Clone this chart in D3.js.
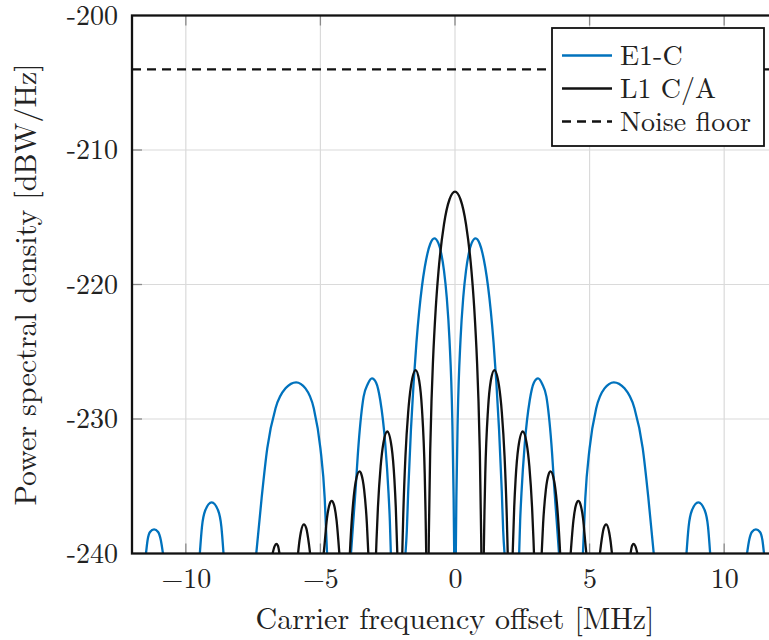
<!DOCTYPE html>
<html>
<head>
<meta charset="utf-8">
<script src="https://cdn.jsdelivr.net/npm/d3@7"></script>
<style>
  body { margin: 0; background: #fff; }
</style>
</head>
<body>
<svg id="chart"></svg>
<script>
const width = 769;
const height = 640;

// axis layout (plot box runs off the right edge like the original crop)
const plotLeft = 132, plotRight = 778, plotTop = 15.5, plotBottom = 553.5;
const fontFamily = '"Latin Modern Roman", "Liberation Serif", serif';
const fontSize = '28px';
const labelSize = '30px';

const xTicks = [-10, -5, 0, 5, 10];
const yTicks = [-200, -210, -220, -230, -240];
const noiseFloor = -204;

const seriesNames = ['E1-C', 'L1 C/A', 'Noise floor'];

// E1-C lobes, [MHz, dBW/Hz]
const e1cLobes = [
  [[-11.48,-240],[-11.42,-239.0],[-11.33,-238.4],[-11.18,-238.2],[-11.03,-238.4],[-10.93,-239.0],[-10.85,-240]],
  [[-9.48,-240],[-9.4,-238.0],[-9.28,-236.8],[-9.04,-236.2],[-8.8,-236.8],[-8.68,-238.0],[-8.6,-240]],
  [[-7.383,-240],[-7.185,-235.9],[-6.975,-232.18],[-6.667,-229.2],[-6.296,-227.72],[-5.901,-227.27],[-5.556,-227.72],[-5.247,-229.2],[-5.0,-232.18],[-4.84,-235.9],[-4.753,-240]],
  [[-3.864,-240],[-3.8,-238.2],[-3.704,-235.53],[-3.58,-231.81],[-3.395,-228.34],[-3.24,-227.4],[-3.086,-226.98],[-2.93,-227.3],[-2.778,-228.59],[-2.593,-231.81],[-2.469,-235.53],[-2.42,-237.6],[-2.383,-240]],
  [[-1.84,-240],[-1.79,-238.3],[-1.739,-235.4],[-1.637,-230.8],[-1.535,-227.23],[-1.432,-224.3],[-1.33,-221.98],[-1.228,-220.15],[-1.125,-218.74],[-1.023,-217.69],[-0.921,-216.99],[-0.767,-216.57],[-0.614,-216.94],[-0.512,-217.69],[-0.409,-218.97],[-0.307,-220.95],[-0.205,-224.1],[-0.102,-229.9],[-0.051,-235.9],[-0.03,-240]],
  [[0.03,-240],[0.051,-235.9],[0.102,-229.9],[0.205,-224.1],[0.307,-220.95],[0.409,-218.97],[0.512,-217.69],[0.614,-216.94],[0.767,-216.57],[0.921,-216.99],[1.023,-217.69],[1.125,-218.74],[1.228,-220.15],[1.33,-221.98],[1.432,-224.3],[1.535,-227.23],[1.637,-230.8],[1.739,-235.4],[1.79,-238.3],[1.84,-240]],
  [[2.383,-240],[2.42,-237.6],[2.469,-235.53],[2.593,-231.81],[2.778,-228.59],[2.93,-227.3],[3.086,-226.98],[3.24,-227.4],[3.395,-228.34],[3.58,-231.81],[3.704,-235.53],[3.8,-238.2],[3.864,-240]],
  [[4.753,-240],[4.84,-235.9],[5.0,-232.18],[5.247,-229.2],[5.556,-227.72],[5.901,-227.27],[6.296,-227.72],[6.667,-229.2],[6.975,-232.18],[7.185,-235.9],[7.383,-240]],
  [[8.6,-240],[8.68,-238.0],[8.8,-236.8],[9.04,-236.2],[9.28,-236.8],[9.4,-238.0],[9.48,-240]],
  [[10.85,-240],[10.93,-239.0],[11.03,-238.4],[11.18,-238.2],[11.33,-238.4],[11.42,-239.0],[11.48,-240]]
];

// L1 C/A lobes
const caLobes = [
  [[-6.777,-240],[-6.7,-239.45],[-6.639,-239.29],[-6.578,-239.42],[-6.522,-240]],
  [[-5.831,-240],[-5.78,-239.09],[-5.729,-238.44],[-5.616,-237.84],[-5.524,-238.13],[-5.422,-239.37],[-5.383,-240]],
  [[-4.88,-240],[-4.859,-239.59],[-4.757,-237.39],[-4.655,-236.31],[-4.583,-236.09],[-4.501,-236.35],[-4.399,-237.55],[-4.297,-240]],
  [[-3.906,-240],[-3.887,-239.25],[-3.785,-236.25],[-3.683,-234.6],[-3.55,-233.89],[-3.478,-234.11],[-3.376,-235.25],[-3.274,-237.76],[-3.22,-240]],
  [[-2.934,-240],[-2.916,-239.0],[-2.864,-236.6],[-2.762,-233.51],[-2.66,-231.78],[-2.517,-230.93],[-2.353,-232.12],[-2.251,-234.51],[-2.2,-236.55],[-2.143,-240]],
  [[-1.959,-240],[-1.944,-238.82],[-1.923,-237.2],[-1.841,-232.77],[-1.739,-229.49],[-1.637,-227.56],[-1.463,-226.36],[-1.33,-227.16],[-1.228,-229.24],[-1.125,-234.07],[-1.095,-236.86],[-1.069,-240]],
  [[-0.979,-240],[-0.972,-238.7],[-0.921,-232.33],[-0.87,-228.49],[-0.818,-225.72],[-0.716,-221.79],[-0.614,-219.04],[-0.409,-215.52],[-0.205,-213.68],[0,-213.1],[0.205,-213.68],[0.409,-215.52],[0.614,-219.04],[0.716,-221.79],[0.818,-225.72],[0.87,-228.49],[0.921,-232.33],[0.972,-238.7],[0.979,-240]],
  [[1.069,-240],[1.095,-236.86],[1.125,-234.07],[1.228,-229.24],[1.33,-227.16],[1.463,-226.36],[1.637,-227.56],[1.739,-229.49],[1.841,-232.77],[1.923,-237.2],[1.944,-238.82],[1.959,-240]],
  [[2.143,-240],[2.2,-236.55],[2.251,-234.51],[2.353,-232.12],[2.517,-230.93],[2.66,-231.78],[2.762,-233.51],[2.864,-236.6],[2.916,-239.0],[2.934,-240]],
  [[3.22,-240],[3.274,-237.76],[3.376,-235.25],[3.478,-234.11],[3.55,-233.89],[3.683,-234.6],[3.785,-236.25],[3.887,-239.25],[3.906,-240]],
  [[4.297,-240],[4.399,-237.55],[4.501,-236.35],[4.583,-236.09],[4.655,-236.31],[4.757,-237.39],[4.859,-239.59],[4.88,-240]],
  [[5.383,-240],[5.422,-239.37],[5.524,-238.13],[5.616,-237.84],[5.729,-238.44],[5.78,-239.09],[5.831,-240]],
  [[6.522,-240],[6.578,-239.42],[6.639,-239.29],[6.7,-239.45],[6.777,-240]]
];

const blue = '#0072bd';
const black = '#111';

const svg = d3.select('#chart')
  .attr('width', width)
  .attr('height', height);

svg.append('rect').attr('width', width).attr('height', height).attr('fill', '#fff');

const x = d3.scaleLinear().domain([-12, 12]).range([plotLeft, plotRight]);
const y = d3.scaleLinear().domain([-240, -200]).range([plotBottom, plotTop]);

svg.append('clipPath').attr('id', 'plot-clip')
  .append('rect')
  .attr('x', plotLeft).attr('y', plotTop)
  .attr('width', plotRight - plotLeft).attr('height', plotBottom - plotTop);

// grid
const grid = svg.append('g').attr('stroke', '#dadada').attr('stroke-width', 1.2);
grid.selectAll('.gx').data(xTicks).enter().append('line')
  .attr('x1', d => x(d)).attr('x2', d => x(d))
  .attr('y1', plotTop).attr('y2', plotBottom);
grid.selectAll('.gy').data(yTicks.slice(1, -1)).enter().append('line')
  .attr('x1', plotLeft).attr('x2', plotRight)
  .attr('y1', d => y(d)).attr('y2', d => y(d));

// tick marks inside the box
const ticks = svg.append('g').attr('stroke', '#8a8a8a').attr('stroke-width', 1.3);
ticks.selectAll('.tb').data(xTicks).enter().append('line')
  .attr('x1', d => x(d)).attr('x2', d => x(d))
  .attr('y1', plotBottom).attr('y2', plotBottom - 10);
ticks.selectAll('.tt').data(xTicks).enter().append('line')
  .attr('x1', d => x(d)).attr('x2', d => x(d))
  .attr('y1', plotTop).attr('y2', plotTop + 10);
ticks.selectAll('.tl').data(yTicks.slice(1, -1)).enter().append('line')
  .attr('x1', plotLeft).attr('x2', plotLeft + 10)
  .attr('y1', d => y(d)).attr('y2', d => y(d));

const line = d3.line()
  .x(d => x(d[0]))
  .y(d => y(d[1]))
  .curve(d3.curveMonotoneX);

const plot = svg.append('g').attr('clip-path', 'url(#plot-clip)');

plot.append('g').selectAll('path')
  .data(e1cLobes)
  .enter()
  .append('path')
  .attr('fill', 'none')
  .attr('stroke', blue)
  .attr('stroke-width', 2.3)
  .attr('d', line);

plot.append('g').selectAll('path')
  .data(caLobes)
  .enter()
  .append('path')
  .attr('fill', 'none')
  .attr('stroke', black)
  .attr('stroke-width', 2.3)
  .attr('d', line);

plot.append('line')
  .attr('x1', plotLeft).attr('x2', plotRight)
  .attr('y1', y(noiseFloor)).attr('y2', y(noiseFloor))
  .attr('stroke', black)
  .attr('stroke-width', 2.3)
  .attr('stroke-dasharray', '9,6');

// frame
svg.append('rect')
  .attr('x', plotLeft).attr('y', plotTop)
  .attr('width', plotRight - plotLeft).attr('height', plotBottom - plotTop)
  .attr('fill', 'none')
  .attr('stroke', '#111')
  .attr('stroke-width', 2.3);

// tick labels
svg.append('g')
  .attr('transform', `translate(0, ${plotBottom})`)
  .call(d3.axisBottom(x).tickValues(xTicks).tickSize(0).tickPadding(15)
    .tickFormat(d => d < 0 ? '\u2212' + Math.abs(d) : d))
  .call(g => g.select('.domain').remove())
  .selectAll('text')
  .style('font-family', fontFamily)
  .style('font-size', fontSize)
  .attr('fill', '#222');

svg.append('g')
  .attr('transform', `translate(${plotLeft}, 0)`)
  .call(d3.axisLeft(y).tickValues(yTicks).tickSize(0).tickPadding(14)
    .tickFormat(d => '-' + Math.abs(d)))
  .call(g => g.select('.domain').remove())
  .selectAll('text')
  .style('font-family', fontFamily)
  .style('font-size', fontSize)
  .attr('fill', '#222');

// axis labels
svg.append('text')
  .attr('x', x(0))
  .attr('y', 629)
  .attr('text-anchor', 'middle')
  .style('font-family', fontFamily)
  .style('font-size', labelSize)
  .attr('fill', '#222')
  .text('Carrier frequency offset [MHz]');

svg.append('text')
  .attr('transform', `translate(36, ${(plotTop + plotBottom) / 2}) rotate(-90)`)
  .attr('text-anchor', 'middle')
  .style('font-family', fontFamily)
  .style('font-size', labelSize)
  .attr('fill', '#222')
  .text('Power spectral density [dBW/Hz]');

// legend
const legend = svg.append('g');
legend.append('rect')
  .attr('x', 552).attr('y', 28)
  .attr('width', 212).attr('height', 118)
  .attr('fill', '#fff')
  .attr('stroke', '#111')
  .attr('stroke-width', 1.8);

const rowY = [55.5, 88.5, 121.5];
const legendStyle = [
  { color: blue, dash: null },
  { color: black, dash: null },
  { color: black, dash: '9,6' }
];

seriesNames.forEach((name, i) => {
  legend.append('line')
    .attr('x1', 562).attr('x2', 612)
    .attr('y1', rowY[i]).attr('y2', rowY[i])
    .attr('stroke', legendStyle[i].color)
    .attr('stroke-width', 2.3)
    .attr('stroke-dasharray', legendStyle[i].dash);
  legend.append('text')
    .attr('x', 620)
    .attr('y', rowY[i] + 9)
    .style('font-family', fontFamily)
    .style('font-size', fontSize)
    .attr('fill', '#222')
    .text(name);
});
</script>
</body>
</html>
